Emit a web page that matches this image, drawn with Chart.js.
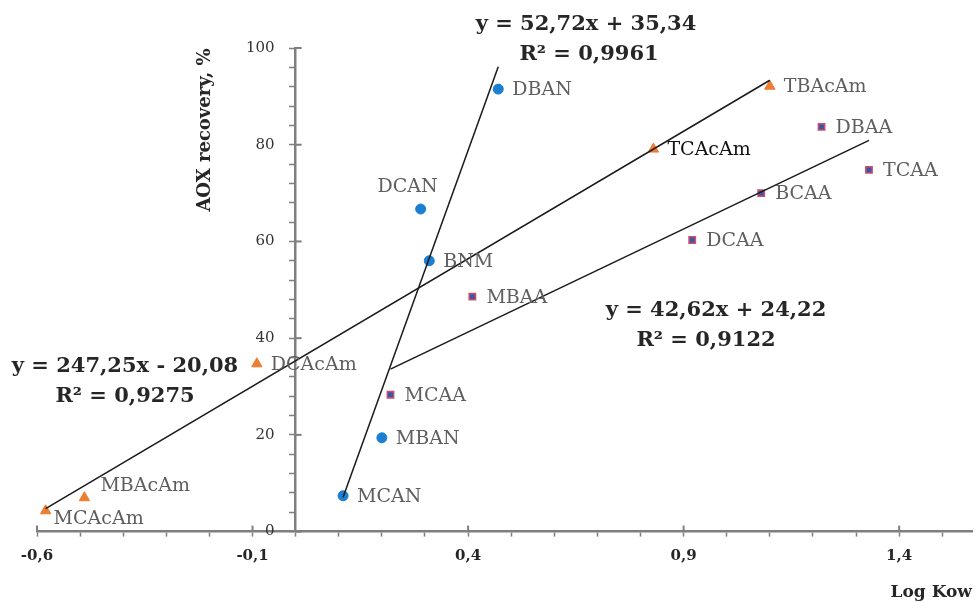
<!DOCTYPE html>
<html>
<head>
<meta charset="utf-8">
<script src="https://cdn.jsdelivr.net/npm/chart.js@4.4.0/dist/chart.umd.min.js"></script>
<style>
    html, body { margin: 0; padding: 0; background: #fff; }
    #wrap { width: 979px; height: 603px; position: relative; }
    canvas { display: block; }
</style>
</head>
<body>
<div id="wrap"><canvas id="out"></canvas></div>
<script>
// haloacetonitriles
const anNames = ["MCAN", "MBAN", "BNM", "DCAN", "DBAN"];
const anLogKow = [0.11, 0.20, 0.31, 0.29, 0.47];
const anAox = [7.4, 19.4, 56.0, 66.7, 91.5];

// haloacetamides
const acamNames = ["MCAcAm", "MBAcAm", "DCAcAm", "TCAcAm", "TBAcAm"];
const acamLogKow = [-0.58, -0.49, -0.09, 0.83, 1.10];
const acamAox = [4.3, 7.0, 34.7, 79.1, 92.1];

// haloacetic acids
const aaNames = ["MCAA", "MBAA", "DCAA", "BCAA", "DBAA", "TCAA"];
const aaLogKow = [0.22, 0.41, 0.92, 1.08, 1.22, 1.33];
const aaAox = [28.3, 48.6, 60.3, 70.0, 83.7, 74.8];

// trend lines (slope, intercept) as printed on the chart
const anTrend = [247.25, -20.08];
const acamTrend = [52.72, 35.34];
const aaTrend = [42.62, 24.22];

const equationLines = [
    ["y = 52,72x + 35,34", "R² = 0,9961"],
    ["y = 247,25x - 20,08", "R² = 0,9275"],
    ["y = 42,62x + 24,22", "R² = 0,9122"]
];

const xTickValues = [-0.6, -0.1, 0.4, 0.9, 1.4];
const xTickLabels = ["-0,6", "-0,1", "0,4", "0,9", "1,4"];
const yTickValues = [0, 20, 40, 60, 80, 100];
const yTickLabels = ["0", "20", "40", "60", "80", "100"];

const serif = "'DejaVu Serif', serif";
const axisGray = "#7f7f7f";

function toPoints(xs, ys) {
    return xs.map((x, i) => ({ x: x, y: ys[i] }));
}

function trendPoints(xs, coef) {
    const lo = Math.min(...xs);
    const hi = Math.max(...xs);
    return [{ x: lo, y: coef[0] * lo + coef[1] }, { x: hi, y: coef[0] * hi + coef[1] }];
}

function lineSet(data) {
    return {
        type: "line",
        data: data,
        borderColor: "#1a1a1a",
        borderWidth: 1.5,
        pointRadius: 0,
        fill: false,
        order: 0
    };
}

// label offsets: [dx, dy, align]
const labelOffsets = {
    DCAN: [-13, -22, "center"],
    MCAcAm: [8, 8, "left"],
    MBAcAm: [16, -12, "left"]
};

const pointLabels = {
    id: "pointLabels",
    afterDatasetsDraw(chart) {
        const ctx = chart.ctx;
        ctx.save();
        ctx.font = "19px " + serif;
        ctx.textBaseline = "middle";
        chart.data.datasets.forEach((ds, i) => {
            if (!ds.names) return;
            const meta = chart.getDatasetMeta(i);
            meta.data.forEach((pt, j) => {
                const name = ds.names[j];
                const off = labelOffsets[name] || [14, 1, "left"];
                ctx.textAlign = off[2];
                ctx.fillStyle = name === "TCAcAm" ? "#111" : "#5e5e5e";
                ctx.fillText(name, pt.x + off[0], pt.y + off[1]);
            });
        });
        ctx.restore();
    }
};

const extras = {
    id: "extras",
    afterDraw(chart) {
        const ctx = chart.ctx;
        const xs = chart.scales.x;
        const ys = chart.scales.y;
        const axisX = xs.getPixelForValue(0);
        const axisY = ys.getPixelForValue(0);
        ctx.save();
        // major ticks cross the axes
        ctx.strokeStyle = axisGray;
        ctx.lineWidth = 2;
        xTickValues.forEach(v => {
            const px = xs.getPixelForValue(v);
            ctx.beginPath();
            ctx.moveTo(px, axisY - 6);
            ctx.lineTo(px, axisY);
            ctx.stroke();
        });
        yTickValues.forEach(v => {
            const py = ys.getPixelForValue(v);
            ctx.beginPath();
            ctx.moveTo(axisX, py);
            ctx.lineTo(axisX + 6, py);
            ctx.stroke();
        });

        ctx.textBaseline = "middle";
        // x tick labels
        ctx.fillStyle = "#262626";
        ctx.font = "bold 15px " + serif;
        ctx.textAlign = "center";
        xTickValues.forEach((v, i) => {
            ctx.fillText(xTickLabels[i], xs.getPixelForValue(v), axisY + 25);
        });

        // y tick labels, left of the axis line
        ctx.fillStyle = "#333";
        ctx.font = "15px " + serif;
        ctx.textAlign = "right";
        yTickValues.forEach((v, i) => {
            ctx.fillText(yTickLabels[i], axisX - 21, ys.getPixelForValue(v));
        });

        // regression equations
        ctx.fillStyle = "#262626";
        ctx.font = "bold 21px " + serif;
        ctx.textAlign = "center";
        const eqPos = [[[586, 25], [589, 55]], [[125, 367], [125, 397]], [[716, 311], [706, 341]]];
        equationLines.forEach((lines, i) => {
            lines.forEach((t, k) => ctx.fillText(t, eqPos[i][k][0], eqPos[i][k][1]));
        });

        // y axis title
        ctx.font = "bold 18px " + serif;
        ctx.translate(205, 130);
        ctx.rotate(-Math.PI / 2);
        ctx.fillText("AOX recovery, %", 0, 0);
        ctx.restore();
    }
};

const canvasCtx = document.getElementById("out").getContext("2d");

const chartConfig = {
    type: "scatter",
    data: {
        datasets: [
            lineSet(trendPoints(anLogKow, anTrend)),
            lineSet(trendPoints(acamLogKow, acamTrend)),
            lineSet(trendPoints(aaLogKow, aaTrend)),
            {
                label: "AN",
                names: anNames,
                data: toPoints(anLogKow, anAox),
                pointStyle: "circle",
                pointRadius: 5,
                backgroundColor: "#1c7ed1",
                borderColor: "#1c7ed1",
                order: 1
            },
            {
                label: "AcAm",
                names: acamNames,
                data: toPoints(acamLogKow, acamAox),
                pointStyle: "triangle",
                pointRadius: 6,
                backgroundColor: "#ed7d31",
                borderColor: "#ed7d31",
                order: 1
            },
            {
                label: "AA",
                names: aaNames,
                data: toPoints(aaLogKow, aaAox),
                pointStyle: "rect",
                pointRadius: 4.5,
                backgroundColor: "#3d55a6",
                borderColor: "#c8506c",
                borderWidth: 1.5,
                order: 1
            }
        ]
    },
    options: {
        responsive: true,
        maintainAspectRatio: false,
        animation: false,
        layout: { padding: { left: 37, top: 48, right: 0, bottom: 0 } },
        plugins: {
            legend: { display: false },
            tooltip: { enabled: false }
        },
        scales: {
            x: {
                type: "linear",
                position: "bottom",
                min: -0.6,
                max: 1.569,
                afterBuildTicks(scale) {
                    const t = [];
                    for (let k = 0; k <= 21; k++) {
                        t.push({ value: Math.round((-0.6 + k * 0.1) * 10) / 10 });
                    }
                    scale.ticks = t;
                },
                ticks: {
                    autoSkip: false,
                    maxRotation: 0,
                    padding: 0,
                    font: { family: serif, size: 15 },
                    callback() { return ""; }
                },
                grid: {
                    drawOnChartArea: false,
                    tickLength: 5,
                    color: axisGray,
                    tickWidth: 1.5
                },
                border: { color: axisGray, width: 2.5 },
                title: {
                    display: true,
                    text: "Log Kow",
                    align: "end",
                    color: "#262626",
                    font: { family: serif, size: 17, weight: "bold" },
                    padding: { top: 28, bottom: 0 }
                }
            },
            y: {
                type: "linear",
                position: { x: 0 },
                min: 0,
                max: 100,
                ticks: {
                    stepSize: 4,
                    autoSkip: false,
                    callback() { return ""; }
                },
                grid: {
                    drawOnChartArea: false,
                    tickLength: 5,
                    color: axisGray,
                    tickWidth: 1.5
                },
                border: { color: axisGray, width: 2.5 }
            }
        }
    },
    plugins: [pointLabels, extras]
};

window.chart = new Chart(canvasCtx, chartConfig);
</script>
</body>
</html>
